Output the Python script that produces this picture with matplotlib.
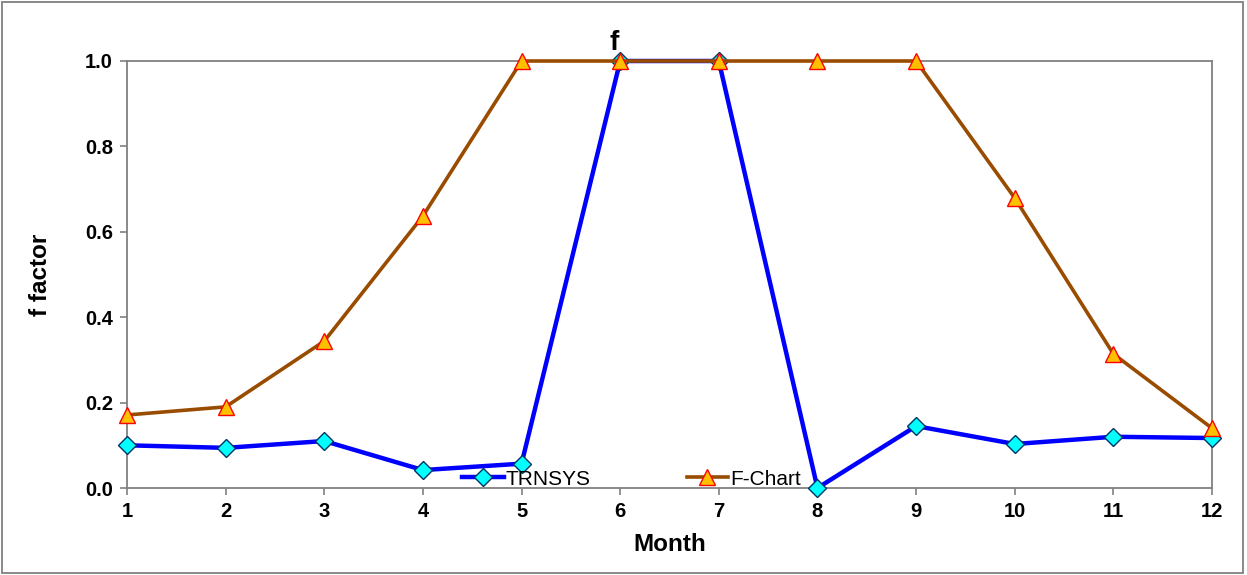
import matplotlib
matplotlib.use("Agg")
import matplotlib.pyplot as plt
from matplotlib.patches import Rectangle

plt.rcParams['font.family'] = ['Liberation Sans', 'DejaVu Sans']

months = [1, 2, 3, 4, 5, 6, 7, 8, 9, 10, 11, 12]
trnsys = [0.100, 0.094, 0.110, 0.042, 0.057, 1.000, 1.000, 0.000, 0.145, 0.103, 0.120, 0.117]
fchart = [0.171, 0.190, 0.344, 0.637, 1.000, 1.000, 1.000, 1.000, 1.000, 0.679, 0.314, 0.140]
y_ticks = [0.0, 0.2, 0.4, 0.6, 0.8, 1.0]

fig = plt.figure(figsize=(12.47, 5.75), dpi=100)
ax = fig.add_axes([127 / 1247, 1 - 488 / 575, (1212 - 127) / 1247, (488 - 61) / 575])

ax.plot(months, trnsys, color='#0000FF', lw=3.2, marker='D', markersize=9.5,
        markerfacecolor='#00FFFF', markeredgecolor='#003366', markeredgewidth=1.0,
        label='TRNSYS', zorder=3, clip_on=False)
ax.plot(months, fchart, color='#994C00', lw=2.6, marker='^', markersize=11,
        markerfacecolor='#FFC000', markeredgecolor='#FF0000', markeredgewidth=1.0,
        label='F-Chart', zorder=4, clip_on=False)

ax.set_xlim(1, 12)
ax.set_ylim(0, 1.0)
ax.set_xticks(months)
ax.set_xticklabels([str(m) for m in months])
ax.set_yticks(y_ticks)
ax.set_yticklabels([f"{v:.1f}" for v in y_ticks])

for s in ax.spines.values():
    s.set_color('#808080')
    s.set_linewidth(1.3)

ax.tick_params(axis='both', direction='out', length=5, width=1.2, color='#808080',
               labelsize=14.5, pad=5)
for lbl in ax.get_xticklabels() + ax.get_yticklabels():
    lbl.set_fontweight('bold')

ax.set_xlabel('Month', fontsize=17.5, fontweight='bold', labelpad=9)
ax.set_ylabel('f factor', fontsize=17.5, fontweight='bold', labelpad=24)
ax.set_title('f', fontsize=20, fontweight='bold', pad=8, x=0.449)

leg = ax.legend(loc='center', bbox_to_anchor=(0.465, 0.021), ncol=2, frameon=False,
                fontsize=15, columnspacing=4.6, handlelength=2.0, handletextpad=0.1,
                borderpad=0, borderaxespad=0)

fig.patches.append(Rectangle((0.002, 0.003), 0.995, 0.993, transform=fig.transFigure,
                             fill=False, edgecolor='#808080', lw=1.3))

fig.savefig('out.png', dpi=100)
